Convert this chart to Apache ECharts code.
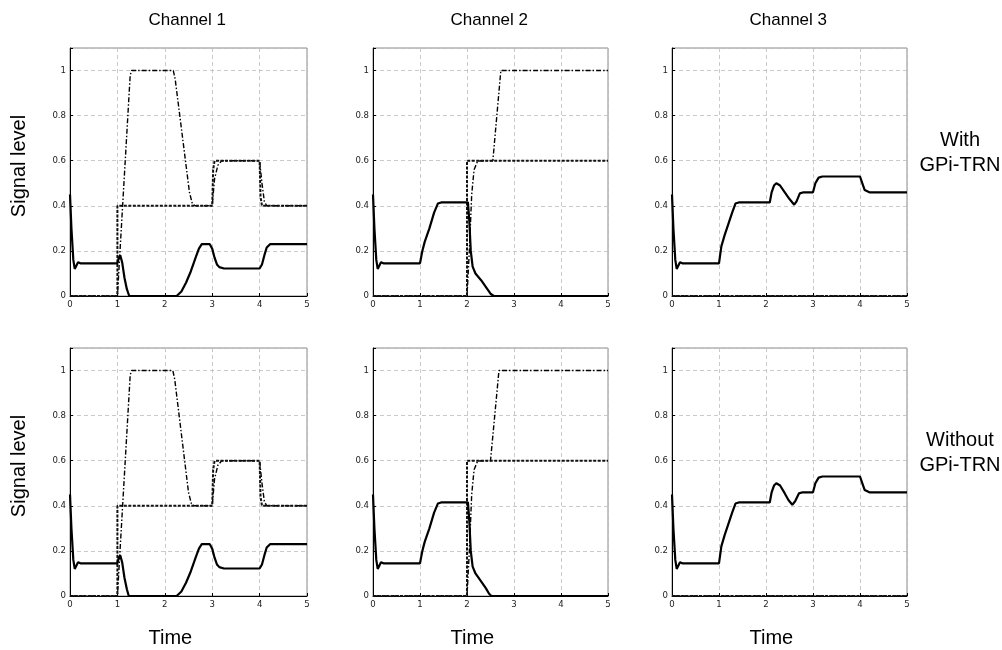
<!DOCTYPE html>
<html>
<head>
<meta charset="utf-8">
<script src="https://cdn.jsdelivr.net/npm/echarts@6/dist/echarts.min.js"></script>
<style>
  html, body { margin: 0; padding: 0; background: #fff; }
  #chart { width: 1002px; height: 650px; }
</style>
</head>
<body>
<div id="chart"></div>
<script>
// x ticks / y ticks
var timeTicks = [0, 1, 2, 3, 4, 5];
var levelTicks = [0, 0.2, 0.4, 0.6, 0.8, 1];
var channels = ['Channel 1', 'Channel 2', 'Channel 3'];
var rowLabels = [['With', 'GPi-TRN'], ['Without', 'GPi-TRN']];

// ---- with GPi-TRN (top row) ----
var ch1TopSolid = [[0,0.45],[0.03,0.3],[0.07,0.16],[0.1,0.12],[0.13,0.125],[0.17,0.15],[0.22,0.145],[1.0,0.145],
  [1.03,0.17],[1.06,0.18],[1.1,0.15],[1.15,0.08],[1.2,0.03],[1.25,0],[2.25,0],[2.35,0.02],[2.45,0.06],[2.55,0.11],
  [2.65,0.17],[2.72,0.21],[2.78,0.23],[2.95,0.23],[3.0,0.21],[3.05,0.17],[3.1,0.14],[3.15,0.128],[3.25,0.122],
  [4.0,0.122],[4.05,0.14],[4.1,0.18],[4.15,0.215],[4.22,0.23],[5,0.23]];
var ch1TopDotted = [[0,0],[1.0,0],[1.0,0.4],[3.0,0.4],[3.02,0.56],[3.05,0.6],[4.0,0.6],[4.02,0.44],[4.05,0.4],[5,0.4]];
var ch1TopDashDot = [[0,0],[1.0,0],[1.27,0.98],[1.3,1],[2.18,1],[2.22,0.96],[2.52,0.46],[2.58,0.41],[2.64,0.4],
  [3.0,0.4],[3.05,0.52],[3.12,0.58],[3.2,0.6],[4.0,0.6],[4.05,0.5],[4.1,0.42],[4.15,0.4],[5,0.4]];

var ch2TopSolid = [[0,0.45],[0.03,0.3],[0.07,0.16],[0.1,0.12],[0.13,0.125],[0.17,0.15],[0.22,0.145],[1.0,0.145],
  [1.05,0.2],[1.1,0.24],[1.2,0.3],[1.3,0.37],[1.38,0.41],[1.45,0.415],[2.02,0.415],[2.05,0.33],[2.08,0.2],
  [2.12,0.13],[2.18,0.1],[2.3,0.07],[2.4,0.04],[2.5,0.01],[2.57,0],[5,0]];
var ch2TopDotted = [[0,0],[2.0,0],[2.0,0.6],[5,0.6]];
var ch2TopDashDot = [[0,0],[2.0,0],[2.05,0.2],[2.1,0.45],[2.15,0.56],[2.22,0.595],[2.3,0.6],[2.55,0.6],
  [2.72,1],[5,1]];

var ch3TopSolid = [[0,0.45],[0.03,0.3],[0.07,0.16],[0.1,0.12],[0.13,0.125],[0.17,0.15],[0.22,0.145],[1.0,0.145],
  [1.05,0.22],[1.12,0.27],[1.2,0.32],[1.28,0.37],[1.35,0.41],[1.42,0.415],[2.08,0.415],[2.12,0.46],[2.17,0.49],
  [2.22,0.5],[2.3,0.49],[2.4,0.46],[2.5,0.43],[2.6,0.405],[2.65,0.42],[2.72,0.455],[2.8,0.46],[3.0,0.46],
  [3.05,0.5],[3.12,0.525],[3.2,0.53],[4.0,0.53],[4.05,0.5],[4.1,0.47],[4.2,0.46],[5,0.46]];
var ch3TopDotted = [[0,0],[5,0]];
var ch3TopDashDot = [[0,0],[5,0]];

// ---- without GPi-TRN (bottom row) ----
var ch1BotSolid = [[0,0.45],[0.03,0.3],[0.07,0.16],[0.1,0.12],[0.13,0.125],[0.17,0.15],[0.22,0.145],[1.0,0.145],
  [1.03,0.17],[1.06,0.18],[1.1,0.15],[1.15,0.08],[1.2,0.03],[1.24,0],[2.25,0],[2.35,0.02],[2.45,0.06],[2.55,0.11],
  [2.65,0.17],[2.72,0.21],[2.78,0.23],[2.95,0.23],[3.0,0.21],[3.05,0.17],[3.1,0.14],[3.15,0.128],[3.25,0.122],
  [4.0,0.122],[4.05,0.14],[4.1,0.18],[4.15,0.215],[4.22,0.23],[5,0.23]];
var ch1BotDotted = [[0,0],[1.0,0],[1.0,0.4],[3.0,0.4],[3.02,0.56],[3.05,0.6],[4.0,0.6],[4.02,0.44],[4.05,0.4],[5,0.4]];
var ch1BotDashDot = [[0,0],[1.0,0],[1.27,0.98],[1.3,1],[2.17,1],[2.21,0.96],[2.5,0.46],[2.56,0.41],[2.62,0.4],
  [3.0,0.4],[3.05,0.52],[3.12,0.58],[3.2,0.6],[4.0,0.6],[4.05,0.5],[4.1,0.42],[4.15,0.4],[5,0.4]];

var ch2BotSolid = [[0,0.45],[0.03,0.3],[0.07,0.16],[0.1,0.12],[0.13,0.125],[0.17,0.15],[0.22,0.145],[1.0,0.145],
  [1.05,0.2],[1.1,0.24],[1.2,0.3],[1.3,0.37],[1.38,0.41],[1.45,0.415],[2.02,0.415],[2.05,0.33],[2.08,0.2],
  [2.12,0.13],[2.18,0.1],[2.3,0.065],[2.4,0.035],[2.47,0.01],[2.52,0],[5,0]];
var ch2BotDotted = [[0,0],[2.0,0],[2.0,0.6],[5,0.6]];
var ch2BotDashDot = [[0,0],[2.0,0],[2.05,0.2],[2.1,0.45],[2.15,0.56],[2.22,0.595],[2.3,0.6],[2.5,0.6],
  [2.68,1],[5,1]];

var ch3BotSolid = [[0,0.45],[0.03,0.3],[0.07,0.16],[0.1,0.12],[0.13,0.125],[0.17,0.15],[0.22,0.145],[1.0,0.145],
  [1.05,0.22],[1.12,0.27],[1.2,0.32],[1.28,0.37],[1.35,0.41],[1.42,0.415],[2.08,0.415],[2.12,0.46],[2.17,0.49],
  [2.22,0.5],[2.3,0.49],[2.4,0.455],[2.48,0.425],[2.56,0.405],[2.62,0.42],[2.7,0.455],[2.78,0.46],[3.0,0.46],
  [3.05,0.5],[3.12,0.525],[3.2,0.53],[4.0,0.53],[4.05,0.5],[4.1,0.47],[4.2,0.46],[5,0.46]];
var ch3BotDotted = [[0,0],[5,0]];
var ch3BotDashDot = [[0,0],[5,0]];

var panels = [
  [ch1TopSolid, ch1TopDotted, ch1TopDashDot],
  [ch2TopSolid, ch2TopDotted, ch2TopDashDot],
  [ch3TopSolid, ch3TopDotted, ch3TopDashDot],
  [ch1BotSolid, ch1BotDotted, ch1BotDashDot],
  [ch2BotSolid, ch2BotDotted, ch2BotDashDot],
  [ch3BotSolid, ch3BotDotted, ch3BotDashDot]
];

var chart = echarts.init(document.getElementById('chart'), null, { renderer: 'canvas' });

var lefts = [70, 373, 672];
var widths = [237, 235, 235];
var tops = [48, 348];
var plotH = 248;
var tickFont = "'Liberation Sans Narrow', 'DejaVu Sans Condensed', 'Liberation Sans', sans-serif";
var mainFont = "'Liberation Sans', Arial, sans-serif";

var grids = [], xAxes = [], yAxes = [], series = [];
var gridLine = { show: true, lineStyle: { color: '#bdbdbd', width: 0.8, type: [4, 3] } };

for (var i = 0; i < 6; i++) {
  var col = i % 3, row = Math.floor(i / 3);
  grids.push({
    left: lefts[col], top: tops[row], width: widths[col], height: plotH,
    show: true, borderColor: '#8a8a8a', borderWidth: 1, backgroundColor: '#fff'
  });
  xAxes.push({
    gridIndex: i, type: 'value', min: timeTicks[0], max: timeTicks[timeTicks.length - 1], interval: 1,
    axisLine: { show: true, lineStyle: { color: '#000', width: 1 } },
    axisTick: { show: true, inside: true, length: 3, lineStyle: { color: '#000' } },
    axisLabel: { color: '#222', fontSize: 9.5, fontFamily: tickFont, margin: 4 },
    splitLine: gridLine
  });
  yAxes.push({
    gridIndex: i, type: 'value', min: 0, max: 1.1, interval: 0.2,
    axisLine: { show: true, lineStyle: { color: '#000', width: 1 } },
    axisTick: { show: true, inside: true, length: 3, lineStyle: { color: '#000' } },
    axisLabel: {
      color: '#222', fontSize: 9.5, fontFamily: tickFont, margin: 4,
      formatter: function (v) {
        for (var k = 0; k < levelTicks.length; k++) {
          if (Math.abs(v - levelTicks[k]) < 1e-6) return String(levelTicks[k]);
        }
        return '';
      }
    },
    splitLine: gridLine
  });
  var d = panels[i];
  series.push({
    type: 'line', xAxisIndex: i, yAxisIndex: i, data: d[2], showSymbol: false, silent: true,
    lineStyle: { color: '#000', width: 1.4, type: [5, 2, 1.5, 2] }, z: 2
  });
  series.push({
    type: 'line', xAxisIndex: i, yAxisIndex: i, data: d[1], showSymbol: false, silent: true,
    lineStyle: { color: '#111', width: 2, type: [3, 1.5] }, z: 3
  });
  series.push({
    type: 'line', xAxisIndex: i, yAxisIndex: i, data: d[0], showSymbol: false, silent: true,
    lineStyle: { color: '#000', width: 2.2 }, z: 4
  });
}

var graphics = [];
channels.forEach(function (name, c) {
  graphics.push({
    type: 'text', left: lefts[c] + widths[c] / 2 - 40, top: 12,
    style: { text: name, font: '17px ' + mainFont, fill: '#000', width: 80, align: 'center' }
  });
  graphics.push({
    type: 'text', left: lefts[c] + widths[c] / 2 - 40, top: 628,
    style: { text: 'Time', font: '20px ' + mainFont, fill: '#000', width: 80, align: 'center' }
  });
});
tops.forEach(function (t, r) {
  graphics.push({
    type: 'text', x: 19, y: t + plotH / 2 - 6, rotation: Math.PI / 2,
    style: { text: 'Signal level', font: '20px ' + mainFont, fill: '#000', align: 'center', verticalAlign: 'middle' }
  });
  graphics.push({
    type: 'text', x: 960, y: t + plotH / 2 - 19,
    style: { text: rowLabels[r].join('\n'), font: '20px ' + mainFont, fill: '#000',
      align: 'center', verticalAlign: 'middle', lineHeight: 25 }
  });
});

chart.setOption({
  backgroundColor: '#fff',
  animation: false,
  grid: grids,
  xAxis: xAxes,
  yAxis: yAxes,
  series: series,
  graphic: graphics
});
</script>
</body>
</html>
